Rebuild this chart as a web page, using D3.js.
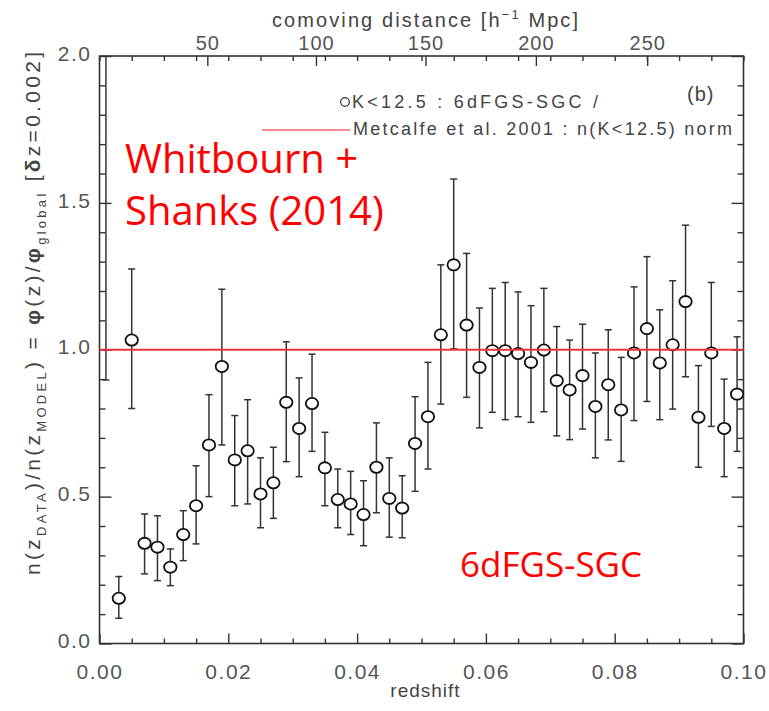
<!DOCTYPE html>
<html lang="en">
<head>
    <meta charset="UTF-8">
    <title>6dFGS-SGC n(z)</title>
    <script src="https://d3js.org/d3.v7.min.js"></script>
    <style>
        body { margin: 0; background: #fff; }
        .axis text { font-family: "Liberation Sans", Arial, sans-serif; fill: #555; }
        .axis line { stroke: #333; stroke-width: 1.4; }
        .axis path { display: none; }
        .idl { font-family: "Liberation Sans", Arial, sans-serif; fill: #444; }
        .note { font-family: "Open Sans", sans-serif; fill: #ff0000; }
    </style>
</head>
<body>
<div id="chart"></div>
<script>
    // redshift bin centres (dz = 0.002)
    let redshift = [0.001, 0.003, 0.005, 0.007, 0.009, 0.011, 0.013, 0.015, 0.017, 0.019,
        0.021, 0.023, 0.025, 0.027, 0.029, 0.031, 0.033, 0.035, 0.037, 0.039,
        0.041, 0.043, 0.045, 0.047, 0.049, 0.051, 0.053, 0.055, 0.057, 0.059,
        0.061, 0.063, 0.065, 0.067, 0.069, 0.071, 0.073, 0.075, 0.077, 0.079,
        0.081, 0.083, 0.085, 0.087, 0.089, 0.091, 0.093, 0.095, 0.097, 0.099];

    // n(z_data)/n(z_model); first bin is off the top of the plot
    let ratio = [null, 0.154, 1.033, 0.341, 0.328, 0.260, 0.371, 0.469, 0.676, 0.943,
        0.625, 0.656, 0.509, 0.547, 0.821, 0.732, 0.817, 0.598, 0.490, 0.475,
        0.439, 0.600, 0.494, 0.461, 0.681, 0.772, 1.051, 1.289, 1.084, 0.940,
        0.997, 0.997, 0.987, 0.957, 0.999, 0.895, 0.863, 0.912, 0.807, 0.881,
        0.795, 0.989, 1.072, 0.955, 1.017, 1.164, 0.770, 0.989, 0.732, 0.849];

    let errHigh = [2.0, 0.228, 1.275, 0.441, 0.435, 0.322, 0.452, 0.605, 0.847, 1.206,
        0.776, 0.830, 0.632, 0.668, 1.027, 0.904, 0.985, 0.719, 0.594, 0.586,
        0.554, 0.751, 0.632, 0.571, 0.840, 0.957, 1.289, 1.581, 1.328, 1.142,
        1.209, 1.229, 1.197, 1.150, 1.209, 1.079, 1.033, 1.087, 0.989, 1.068,
        0.974, 1.214, 1.317, 1.136, 1.235, 1.424, 0.946, 1.229, 0.900, 1.044];

    let errLow = [0.897, 0.086, 0.800, 0.237, 0.214, 0.197, 0.282, 0.339, 0.500, 0.676,
        0.469, 0.475, 0.394, 0.426, 0.619, 0.568, 0.654, 0.469, 0.394, 0.371,
        0.333, 0.445, 0.362, 0.360, 0.518, 0.594, 0.815, 1.003, 0.838, 0.734,
        0.787, 0.762, 0.772, 0.753, 0.789, 0.707, 0.694, 0.730, 0.632, 0.693,
        0.620, 0.759, 0.824, 0.762, 0.798, 0.908, 0.600, 0.739, 0.568, 0.654];

    let xMajor = [0, 0.02, 0.04, 0.06, 0.08, 0.10];
    let xMinor = [0.005, 0.01, 0.015, 0.025, 0.03, 0.035, 0.045, 0.05, 0.055,
        0.065, 0.07, 0.075, 0.085, 0.09, 0.095];
    let yMajor = [0, 0.5, 1.0, 1.5, 2.0];
    let yMinor = [0.1, 0.2, 0.3, 0.4, 0.6, 0.7, 0.8, 0.9, 1.1, 1.2, 1.3, 1.4, 1.6, 1.7, 1.8, 1.9];
    let distanceTicks = [50, 100, 150, 200, 250];   // h^-1 Mpc
    let modelLevel = 1.0;

    let width = 769, height = 711;

    let svg = d3.select("#chart").append("svg")
        .attr("width", width)
        .attr("height", height);

    svg.append("rect").attr("width", width).attr("height", height).attr("fill", "#fff");

    let x = d3.scaleLinear().domain([0, 0.1]).range([99.5, 743.5]);
    let y = d3.scaleLinear().domain([0, 2]).range([643.5, 56]);

    // comoving distance (flat, Om=0.3) -> redshift, for the top axis
    function comoving(z) {
        let n = 200, h = z / n, s = 0;
        let f = t => 1 / Math.sqrt(0.3 * Math.pow(1 + t, 3) + 0.7);
        for (let i = 0; i <= n; i++) {
            let w = (i === 0 || i === n) ? 1 : (i % 2 ? 4 : 2);
            s += w * f(i * h);
        }
        return 2997.92 * s * h / 3;
    }
    function zOfDistance(d) {
        let lo = 0, hi = 0.2;
        for (let k = 0; k < 60; k++) {
            let mid = (lo + hi) / 2;
            if (comoving(mid) < d) lo = mid; else hi = mid;
        }
        return (lo + hi) / 2;
    }
    let topZ = distanceTicks.map(zOfDistance);

    // bottom axis
    svg.append("g").attr("class", "axis")
        .attr("transform", `translate(0,${y(0)})`)
        .call(d3.axisBottom(x).tickValues(xMinor).tickSizeInner(-5).tickSizeOuter(0).tickFormat(""));
    svg.append("g").attr("class", "axis")
        .attr("transform", `translate(0,${y(0)})`)
        .call(d3.axisBottom(x).tickValues(xMajor).tickSizeInner(-10).tickSizeOuter(0)
            .tickPadding(21).tickFormat(d3.format(".2f")))
        .selectAll("text").style("font-size", "21px").style("letter-spacing", "1.5px");

    // top axis
    svg.append("g").attr("class", "axis")
        .attr("transform", `translate(0,${y(2)})`)
        .call(d3.axisTop(x).tickValues(xMinor.concat(xMajor)).tickSizeInner(-5).tickSizeOuter(0).tickFormat(""));
    svg.append("g").attr("class", "axis")
        .attr("transform", `translate(0,${y(2)})`)
        .call(d3.axisTop(x).tickValues(topZ).tickSizeInner(-10).tickSizeOuter(0)
            .tickPadding(6).tickFormat((d, i) => distanceTicks[i]))
        .selectAll("text").style("font-size", "20px").style("letter-spacing", "1px");

    // left axis
    svg.append("g").attr("class", "axis")
        .attr("transform", `translate(${x(0)},0)`)
        .call(d3.axisLeft(y).tickValues(yMinor).tickSizeInner(-6).tickSizeOuter(0).tickFormat(""));
    svg.append("g").attr("class", "axis")
        .attr("transform", `translate(${x(0)},0)`)
        .call(d3.axisLeft(y).tickValues(yMajor).tickSizeInner(-12).tickSizeOuter(0)
            .tickPadding(8).tickFormat(d3.format(".1f")))
        .selectAll("text").style("font-size", "21px").style("letter-spacing", "1.5px").attr("dy", "0.2em");

    // right axis
    svg.append("g").attr("class", "axis")
        .attr("transform", `translate(${x(0.1)},0)`)
        .call(d3.axisRight(y).tickValues(yMinor).tickSizeInner(-6).tickSizeOuter(0).tickFormat(""));
    svg.append("g").attr("class", "axis")
        .attr("transform", `translate(${x(0.1)},0)`)
        .call(d3.axisRight(y).tickValues(yMajor).tickSizeInner(-12).tickSizeOuter(0).tickFormat(""));

    // frame
    svg.append("rect")
        .attr("x", x(0)).attr("y", y(2))
        .attr("width", x(0.1) - x(0)).attr("height", y(0) - y(2))
        .attr("fill", "none").attr("stroke", "#333").attr("stroke-width", 1.6);

    // axis titles
    svg.append("text").attr("class", "idl")
        .attr("x", (x(0) + x(0.1)) / 2 + 4).attr("y", 697)
        .attr("text-anchor", "middle").style("font-size", "19px").style("letter-spacing", "1px")
        .text("redshift");

    let topTitle = svg.append("text").attr("class", "idl")
        .attr("x", 272).attr("y", 27)
        .attr("textLength", 306).attr("lengthAdjust", "spacing")
        .style("font-size", "20px");
    topTitle.append("tspan").text("comoving distance [h");
    topTitle.append("tspan").attr("dy", -8).style("font-size", "13px").text("−1");
    topTitle.append("tspan").attr("dy", 8).text(" Mpc]");

    let yTitle = svg.append("text").attr("class", "idl")
        .attr("transform", "translate(40,575) rotate(-90)")
        .attr("textLength", 523).attr("lengthAdjust", "spacing")
        .style("font-size", "21px");
    yTitle.append("tspan").text("n(z");
    yTitle.append("tspan").attr("dy", 6).style("font-size", "13px").text("DATA");
    yTitle.append("tspan").attr("dy", -6).text(")/n(z");
    yTitle.append("tspan").attr("dy", 6).style("font-size", "13px").text("MODEL");
    yTitle.append("tspan").attr("dy", -6).text(")  =  ");
    yTitle.append("tspan").style("font-weight", "bold").text("φ");
    yTitle.append("tspan").text("(z)/");
    yTitle.append("tspan").style("font-weight", "bold").text("φ");
    yTitle.append("tspan").attr("dy", 6).style("font-size", "13px").text("global");
    yTitle.append("tspan").attr("dy", -6).text("  [");
    yTitle.append("tspan").style("font-weight", "bold").text("δ");
    yTitle.append("tspan").text("z=0.002]");

    // data
    let data = redshift.map((z, i) => ({z: z, v: ratio[i], lo: errLow[i], hi: Math.min(errHigh[i], 2)}));

    let plot = svg.append("g");

    plot.selectAll("line.err")
        .data(data)
        .enter()
        .append("line")
        .attr("class", "err")
        .attr("x1", d => x(d.z)).attr("x2", d => x(d.z))
        .attr("y1", d => y(d.lo)).attr("y2", d => y(d.hi))
        .attr("stroke", "#333").attr("stroke-width", 1.5);

    let caps = data.flatMap(d => d.hi < 2 ? [d.lo, d.hi].map(v => ({z: d.z, v: v})) : [{z: d.z, v: d.lo}]);
    plot.selectAll("line.cap")
        .data(caps)
        .enter()
        .append("line")
        .attr("class", "cap")
        .attr("x1", d => x(d.z) - 3.5).attr("x2", d => x(d.z) + 3.5)
        .attr("y1", d => y(d.v)).attr("y2", d => y(d.v))
        .attr("stroke", "#333").attr("stroke-width", 1.5);

    plot.selectAll("ellipse")
        .data(data.filter(d => d.v !== null))
        .enter()
        .append("ellipse")
        .attr("cx", d => x(d.z)).attr("cy", d => y(d.v))
        .attr("rx", 6.2).attr("ry", 5.6)
        .attr("fill", "#fff").attr("stroke", "#111").attr("stroke-width", 1.8);

    // model normalisation line
    svg.append("line")
        .attr("x1", x(0)).attr("x2", x(0.1))
        .attr("y1", y(modelLevel)).attr("y2", y(modelLevel))
        .attr("stroke", "#f2333f").attr("stroke-width", 2);

    // legend
    svg.append("circle").attr("cx", 345).attr("cy", 102).attr("r", 4.3)
        .attr("fill", "none").attr("stroke", "#333").attr("stroke-width", 1.2);
    svg.append("text").attr("class", "idl")
        .attr("x", 352).attr("y", 108).style("font-size", "18px")
        .attr("textLength", 246).attr("lengthAdjust", "spacing")
        .text("K<12.5 : 6dFGS-SGC /");
    svg.append("line").attr("x1", 262).attr("x2", 350).attr("y1", 130).attr("y2", 130)
        .attr("stroke", "#ff6270").attr("stroke-width", 1.6);
    svg.append("text").attr("class", "idl")
        .attr("x", 353).attr("y", 135).style("font-size", "18px")
        .attr("textLength", 379).attr("lengthAdjust", "spacing")
        .text("Metcalfe et al. 2001 : n(K<12.5) norm");
    svg.append("text").attr("class", "idl")
        .attr("x", 687).attr("y", 101).style("font-size", "20px")
        .style("letter-spacing", "1px")
        .text("(b)");

    // annotations
    svg.append("text").attr("class", "note")
        .attr("x", 125).attr("y", 173).style("font-size", "40px")
        .text("Whitbourn +");
    svg.append("text").attr("class", "note")
        .attr("x", 125).attr("y", 225).style("font-size", "40px")
        .text("Shanks (2014)");
    svg.append("text").attr("class", "note")
        .attr("x", 460).attr("y", 577).style("font-size", "35px")
        .text("6dFGS-SGC");
</script>
</body>
</html>
